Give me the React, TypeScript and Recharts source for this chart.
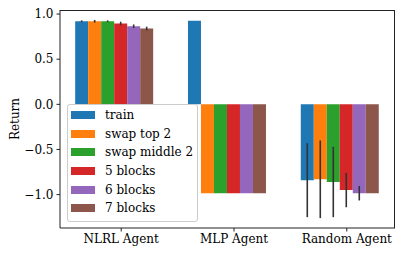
import { BarChart, Bar, XAxis, YAxis, ErrorBar, Legend } from "recharts";

const categories = ["NLRL Agent", "MLP Agent", "Random Agent"];
const seriesNames = ["train", "swap top 2", "swap middle 2", "5 blocks", "6 blocks", "7 blocks"];
const colors = ["#1f77b4", "#ff7f0e", "#2ca02c", "#d62728", "#9467bd", "#8c564b"];

// mean return per agent (NLRL, MLP, Random)
const train = [0.92, 0.925, -0.84];
const swapTop2 = [0.92, -0.985, -0.83];
const swapMiddle2 = [0.92, -0.985, -0.86];
const blocks5 = [0.895, -0.985, -0.95];
const blocks6 = [0.865, -0.985, -0.985];
const blocks7 = [0.84, -0.985, -0.985];

// std of return
const trainErr = [0.01, 0, 0.41];
const swapTop2Err = [0.015, 0, 0.43];
const swapMiddle2Err = [0.01, 0, 0.39];
const blocks5Err = [0.02, 0, 0.19];
const blocks6Err = [0.02, 0, 0.08];
const blocks7Err = [0.02, 0, 0];

const yTicks = [-1, -0.5, 0, 0.5, 1];

const values = [train, swapTop2, swapMiddle2, blocks5, blocks6, blocks7];
const errors = [trainErr, swapTop2Err, swapMiddle2Err, blocks5Err, blocks6Err, blocks7Err];

const data = categories.map((name, i) => {
    const row: Record<string, any> = { name };
    values.forEach((v, s) => {
        row["s" + s] = v[i];
        row["e" + s] = errors[s][i];
    });
    return row;
});

const font = "DejaVu Serif";
const ink = "#222";

const fmt = (v: number) => (v < 0 ? "\u2212" : "") + Math.abs(v).toFixed(1);

const LegendBox = () => (
    <div
        style={{
            width: 131,
            height: 118,
            boxSizing: "border-box",
            border: "1px solid #cccccc",
            borderRadius: 3,
            background: "rgba(255,255,255,0.8)",
            padding: "0.5px 0 0 3.3px",
            fontFamily: font,
            fontSize: 12,
            color: "#000",
        }}
    >
        {seriesNames.map((n, i) => (
            <div key={n} style={{ display: "flex", alignItems: "center", height: 18.7 }}>
                <span style={{ width: 24, height: 8, background: colors[i], marginRight: 10, flex: "none" }} />
                <span>{n}</span>
            </div>
        ))}
    </div>
);

export default function App() {
    return (
        <div style={{ position: "absolute", left: 0, top: 0, width: 405, height: 255, background: "#fff", fontFamily: font }}>
            <BarChart
                width={405}
                height={255}
                data={data}
                margin={{ top: 10, right: 10, bottom: 0, left: 0 }}
                barGap={0}
                barCategoryGap="9.2%"
                style={{ fontFamily: font }}
            >
                <XAxis
                    dataKey="name"
                    height={27}
                    padding={{ left: 4.8, right: -8.2 }}
                    axisLine={{ stroke: ink, strokeWidth: 1 }}
                    tickLine={{ stroke: ink }}
                    tickSize={3.5}
                    tickMargin={3}
                    tick={{ fontSize: 12, fontFamily: font, fill: "#000" }}
                />
                <YAxis
                    width={60}
                    domain={[-1.37, 1.045]}
                    ticks={yTicks}
                    allowDataOverflow
                    tickFormatter={fmt}
                    axisLine={{ stroke: ink, strokeWidth: 1 }}
                    tickLine={{ stroke: ink }}
                    tickSize={3.5}
                    tickMargin={3}
                    tick={{ fontSize: 12, fontFamily: font, fill: "#000" }}
                    label={(p: any) => {
                        const vb = p && p.viewBox ? p.viewBox : { x: 0, y: 10, width: 60, height: 218 };
                        const cx = vb.x + 15;
                        const cy = vb.y + vb.height / 2;
                        return (
                            <text
                                x={cx}
                                y={cy}
                                transform={`rotate(-90 ${cx} ${cy})`}
                                textAnchor="middle"
                                dominantBaseline="central"
                                fontFamily={font}
                                fontSize={12}
                                fill="#000"
                            >
                                Return
                            </text>
                        );
                    }}
                />
                <Legend
                    layout="horizontal"
                    verticalAlign="middle"
                    align="center"
                    wrapperStyle={{ left: 66.7, top: 104, width: 131, height: 118 }}
                    content={() => <LegendBox />}
                />
                {seriesNames.map((n, s) => (
                    <Bar key={n} dataKey={"s" + s} name={n} fill={colors[s]} isAnimationActive={false}>
                        <ErrorBar dataKey={"e" + s} width={0} stroke="#333" strokeWidth={1.6} direction="y" />
                    </Bar>
                ))}
                {/* empty 7th slot so matplotlib's offset grouping (red bar on the tick) lines up */}
                <Bar dataKey="spacer" fill="none" legendType="none" isAnimationActive={false} />
            </BarChart>
            {/* top and right spines of the axes frame */}
            <div
                style={{
                    position: "absolute",
                    left: 60,
                    top: 9.5,
                    width: 335,
                    height: 218.5,
                    borderTop: `1px solid ${ink}`,
                    borderRight: `1px solid ${ink}`,
                    boxSizing: "border-box",
                    pointerEvents: "none",
                }}
            />
        </div>
    );
}
